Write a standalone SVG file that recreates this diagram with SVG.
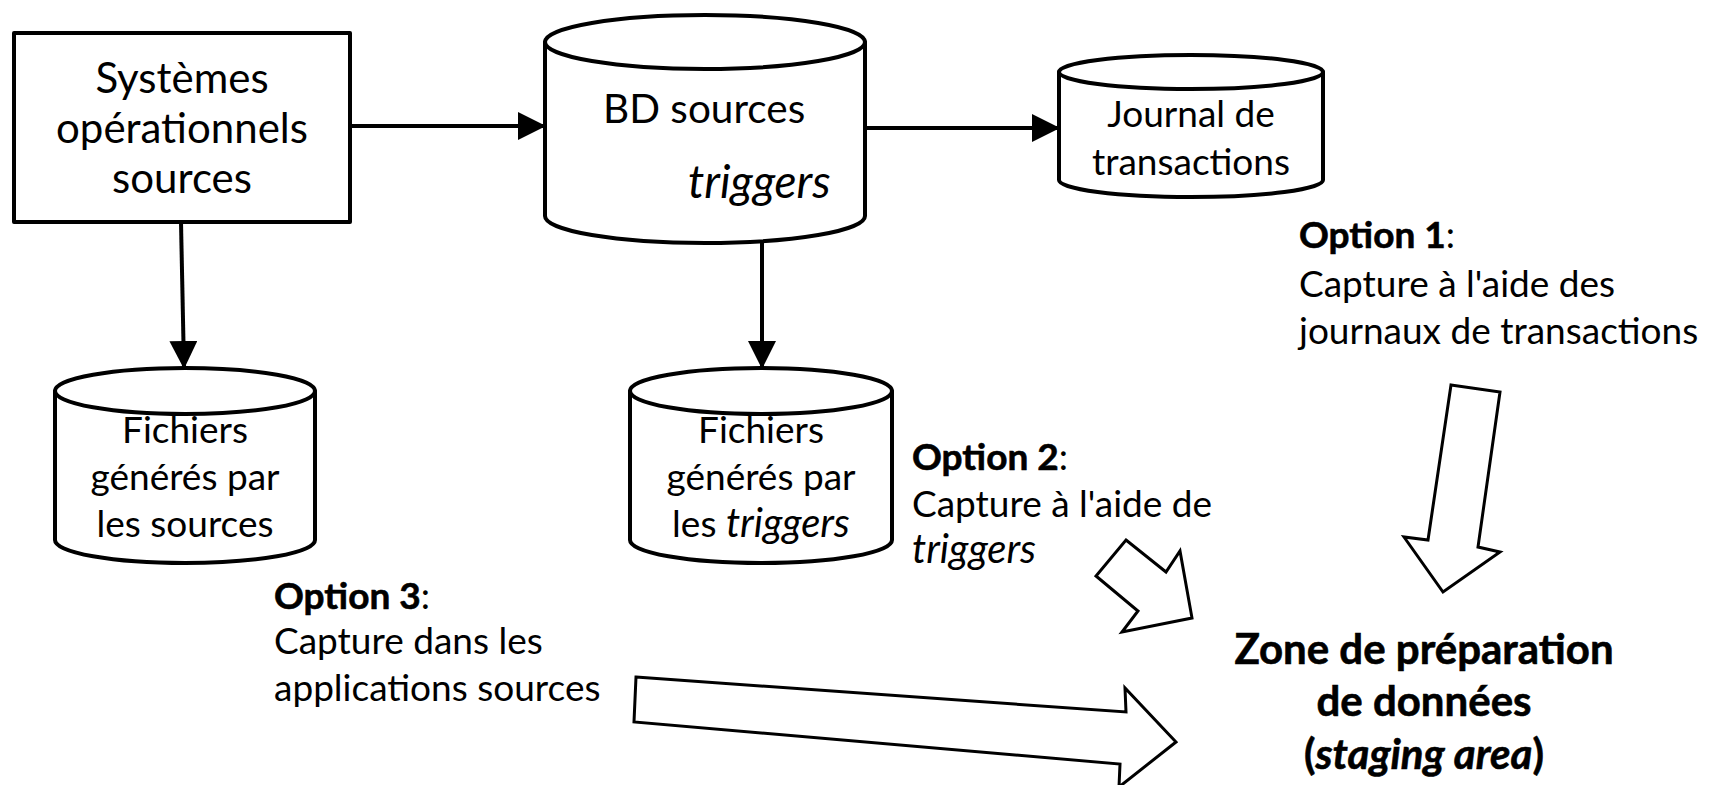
<svg xmlns="http://www.w3.org/2000/svg" width="1714" height="785" viewBox="0 0 1714 785">
<defs>
<marker id="ah" markerUnits="userSpaceOnUse" markerWidth="28" markerHeight="28" refX="27" refY="14" orient="auto">
<path d="M0,0 L28,14 L0,28 Z" fill="#000"/>
</marker>
<style>
.shape{fill:#fff;stroke:#000;stroke-width:4;stroke-linejoin:round}
.conn{fill:none;stroke:#000;stroke-width:4;marker-end:url(#ah)}
.block{fill:#fff;stroke:#000;stroke-width:3;stroke-linejoin:miter}
text{font-family:Lato,"Open Sans","Liberation Sans",sans-serif;fill:#000}
.big{font-size:42px}
.mid{font-size:37px}
.c{text-anchor:middle}
.b{font-weight:bold;stroke:#000;stroke-width:0.6}
.i{font-style:italic}
.iw{font-size:40px}
.zone{font-size:42px}
</style>
</defs>
<rect width="1714" height="785" fill="#fff"/>

<g id="connectors">
<path class="conn" d="M350,126 L545,126"/>
<path class="conn" d="M865,128 L1059,128"/>
<path class="conn" d="M181,222 L184,368"/>
<path class="conn" d="M762,222 L762,368"/>
</g>

<g id="systemes">
<rect class="shape" x="14" y="33" width="336" height="189"/>
<text class="big c" x="182" y="93">Systèmes</text>
<text class="big c" x="182" y="143">opérationnels</text>
<text class="big c" x="182" y="193">sources</text>
</g>

<g id="bd-sources">
<path class="shape" d="M545,42 V216 A160,27 0 0 0 865,216 V42 Z"/>
<ellipse class="shape" cx="705" cy="42" rx="160" ry="27"/>
<text x="603" y="123" font-size="40.5">BD sources</text>
<text class="i" x="688" y="198" font-size="46">triggers</text>
</g>

<g id="journal">
<path class="shape" d="M1059,72 V180 A132,17 0 0 0 1323,180 V72 Z"/>
<ellipse class="shape" cx="1191" cy="72" rx="132" ry="17"/>
<text class="mid c" x="1191" y="127">Journal de</text>
<text class="mid c" x="1191" y="175">transactions</text>
</g>

<g id="fichiers-sources">
<path class="shape" d="M55,391 V540 A130,23 0 0 0 315,540 V391 Z"/>
<ellipse class="shape" cx="185" cy="391" rx="130" ry="23"/>
<text class="mid c" x="185" y="443">Fichiers</text>
<text class="mid c" x="185" y="490">générés par</text>
<text class="mid c" x="185" y="537">les sources</text>
</g>

<g id="fichiers-triggers">
<path class="shape" d="M630,391 V540 A131,23 0 0 0 892,540 V391 Z"/>
<ellipse class="shape" cx="761" cy="391" rx="131" ry="23"/>
<text class="mid c" x="761" y="443">Fichiers</text>
<text class="mid c" x="761" y="490">générés par</text>
<text class="mid c" x="761" y="537">les <tspan class="i iw">triggers</tspan></text>
</g>

<g id="option1">
<text class="mid" x="1299" y="248"><tspan class="b">Option 1</tspan>:</text>
<text class="mid" x="1299" y="297">Capture à l'aide des</text>
<text class="mid" x="1299" y="344">journaux de transactions</text>
<polygon class="block" points="1451,385 1500,392 1478,547 1500,552 1443,592 1404,537 1428,540"/>
</g>

<g id="option2">
<text class="mid" x="912" y="470"><tspan class="b">Option 2</tspan>:</text>
<text class="mid" x="912" y="517">Capture à l'aide de</text>
<text class="i iw" x="912" y="563">triggers</text>
<polygon class="block" points="1126,540 1166,572 1180,551 1192,618 1122,632 1138,611 1096,576"/>
</g>

<g id="option3">
<text class="mid" x="274" y="609"><tspan class="b">Option 3</tspan>:</text>
<text class="mid" x="274" y="654">Capture dans les</text>
<text class="mid" x="274" y="701">applications sources</text>
<polygon class="block" points="636,677 1126,712 1125,688 1176,742 1119,787 1120,764 634,722"/>
</g>

<g id="staging">
<text class="zone b c" x="1424" y="664">Zone de préparation</text>
<text class="zone b c" x="1424" y="716">de données</text>
<text class="zone b c" x="1424" y="769">(<tspan class="i">staging area</tspan>)</text>
</g>
</svg>
